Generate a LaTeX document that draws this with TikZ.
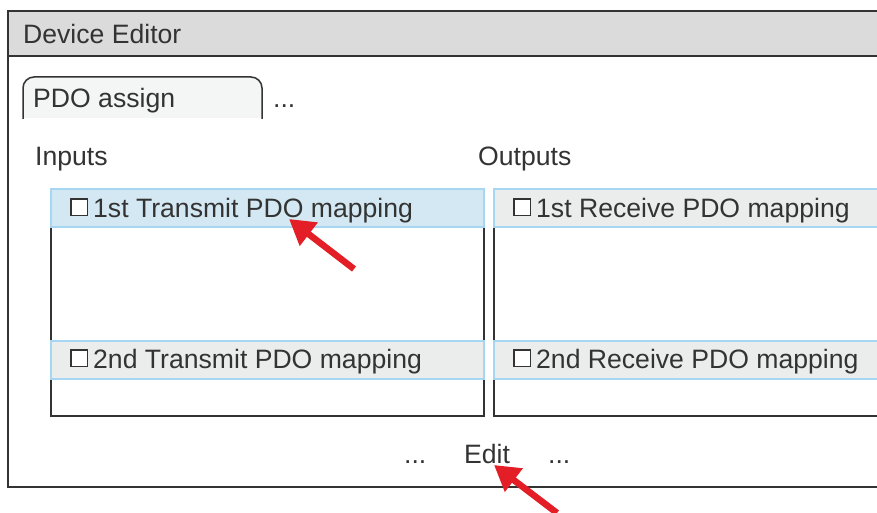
\documentclass[tikz,border=0pt]{standalone}
\usepackage{fontspec}
\setmainfont{Liberation Sans}
\usetikzlibrary{arrows.meta}
\definecolor{ink}{HTML}{333333}
\definecolor{rowgrey}{HTML}{EBECEC}
\definecolor{rowblue}{HTML}{D3E8F2}
\definecolor{rowedge}{HTML}{A6D7F2}
\definecolor{arrowred}{HTML}{E41E26}
\tikzset{
  lbl/.style={inner sep=0pt,text=ink,font=\fontsize{26.6}{30}\selectfont,anchor=base west},
  panel/.style={draw=ink,line width=1.3pt,fill=none},
  rowbox/.style={draw=rowedge,line width=2pt},
  chk/.style={draw=ink,line width=1.5pt,fill=white,minimum size=16.5pt,inner sep=0pt,anchor=center},
  redarrow/.style={draw=arrowred,line width=6.5pt,-{Triangle[length=25pt,width=28pt]},shorten >=0pt},
}
\begin{document}
\begin{tikzpicture}[x=1pt,y=-1pt]
\useasboundingbox (0,0) rectangle (877,513);
\fill[white] (0,0) rectangle (877,513);
\begin{scope}
\clip (0,0) rectangle (877,513);
% outer frame and header
\fill[fill=black!14] (8,11) rectangle (900,56);
\draw[ink,line width=2pt] (900,11) -- (8,11) -- (8,487) -- (900,487);
\draw[ink,line width=1.6pt] (8,56) -- (900,56);
\node[lbl] (title) at (23,44) {Device Editor};
% tab
\fill[fill=rowgrey!55,rounded corners=11pt] (23,130) -- (23,77) -- (262,77) -- (262,130) -- cycle;
\fill[white] (15,118.5) rectangle (270,135);
\begin{scope}
\clip (0,60) rectangle (300,118.5);
\draw[ink,line width=1.5pt,rounded corners=11pt] (23,130) -- (23,77) -- (262,77) -- (262,130);
\end{scope}
\node[lbl] (tab) at (33,108) {PDO assign};
\node[lbl] (tabdots) at (273,108) {...};
% column heads
\node[lbl] (inputs) at (35,166) {Inputs};
\node[lbl] (outputs) at (478,165) {Outputs};
% panels
\draw[panel] (51,225) -- (51,416) -- (484,416) -- (484,225);
\draw[panel] (494,225) -- (494,416) -- (900,416);
% rows
\draw[rowbox,fill=rowblue] (51,188.5) rectangle (484,227);
\draw[rowbox,fill=rowgrey] (494,188.5) rectangle (900,227);
\draw[rowbox,fill=rowgrey] (51,340.5) rectangle (484,379);
\draw[rowbox,fill=rowgrey] (494,340.5) rectangle (900,379);
% checkboxes and row labels
\node[chk] (c1) at (79,207) {};
\node[lbl] (t1) at (93,217) {1st Transmit PDO mapping};
\node[chk] (c2) at (522,207) {};
\node[lbl] (r1) at (536,217) {1st Receive PDO mapping};
\node[chk] (c3) at (79,358) {};
\node[lbl] (t2) at (93,368) {2nd Transmit PDO mapping};
\node[chk] (c4) at (522,358) {};
\node[lbl] (r2) at (536,368) {2nd Receive PDO mapping};
% bottom line
\node[lbl] (d1) at (404,463) {...};
\node[lbl] (edit) at (464,463) {Edit};
\node[lbl] (d2) at (548,463) {...};
% arrows
\coordinate (a1s) at (354,269);
\coordinate (a1e) at (289,219);
\coordinate (a2s) at (557,513);
\coordinate (a2e) at (494,465);
\draw[redarrow] (a1s) -- (a1e);
\draw[redarrow] (a2s) -- (a2e);
\end{scope}
\end{tikzpicture}
\end{document}
